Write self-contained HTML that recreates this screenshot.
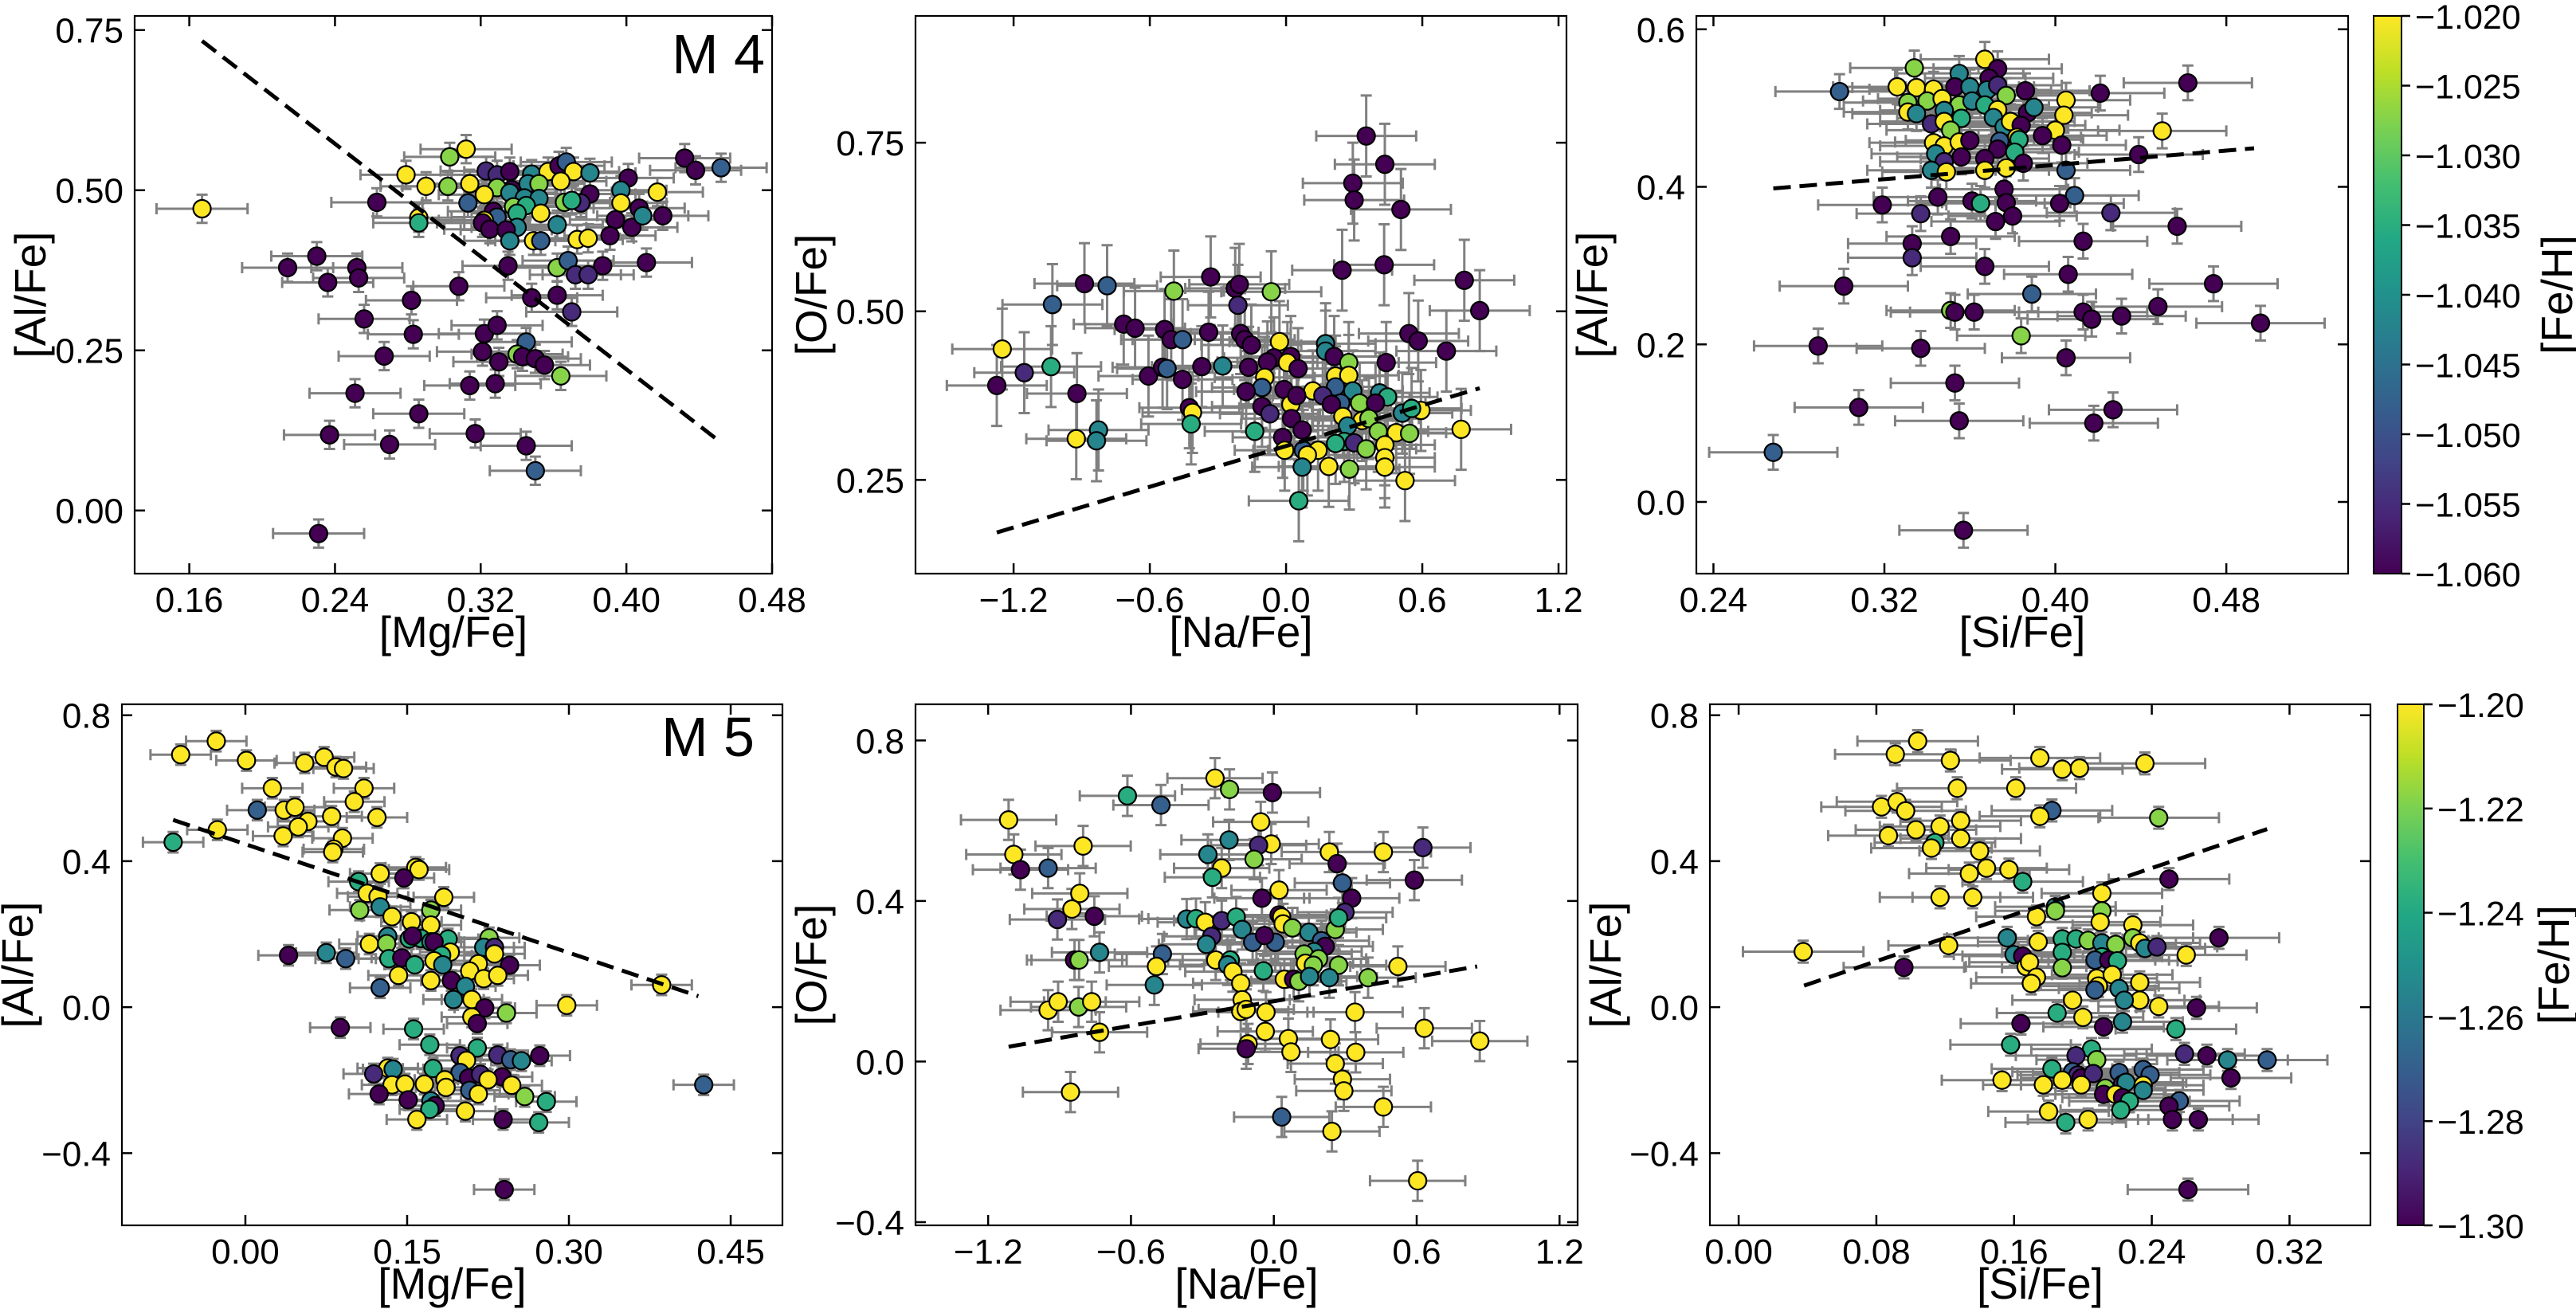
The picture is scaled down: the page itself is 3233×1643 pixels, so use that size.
<!DOCTYPE html>
<html><head><meta charset="utf-8">
<style>
html,body{margin:0;padding:0;background:#fff;}
svg{display:block;font-family:"Liberation Sans",sans-serif;}
</style></head>
<body>
<svg id="fig" width="3233" height="1643" viewBox="0 0 3233 1643" xmlns="http://www.w3.org/2000/svg"></svg>
<script>
// ---- data: [x, y, FeH-class] ; classes P,I,B,T,G,L,Y map to colorbar values ----
const m4MgAl = [[0.167,0.471,'Y'],[0.432,0.55,'P'],[0.438,0.531,'P'],[0.452,0.535,'B'],[0.312,0.564,'Y'],[0.303,0.552,'L'],[0.279,0.524,'Y'],[0.29,0.506,'Y'],[0.302,0.506,'L'],[0.314,0.51,'Y'],[0.323,0.53,'I'],[0.329,0.524,'I'],[0.336,0.529,'P'],[0.348,0.525,'T'],[0.357,0.529,'Y'],[0.363,0.538,'P'],[0.367,0.544,'B'],[0.371,0.529,'Y'],[0.38,0.527,'T'],[0.401,0.519,'P'],[0.337,0.501,'P'],[0.346,0.51,'T'],[0.352,0.51,'L'],[0.329,0.504,'L'],[0.322,0.493,'Y'],[0.336,0.496,'T'],[0.344,0.488,'T'],[0.352,0.487,'T'],[0.364,0.514,'Y'],[0.38,0.494,'P'],[0.397,0.5,'T'],[0.417,0.497,'Y'],[0.397,0.48,'Y'],[0.375,0.48,'I'],[0.366,0.481,'L'],[0.37,0.484,'G'],[0.313,0.48,'B'],[0.263,0.481,'P'],[0.338,0.474,'L'],[0.345,0.476,'G'],[0.34,0.464,'G'],[0.353,0.464,'Y'],[0.327,0.467,'P'],[0.329,0.458,'B'],[0.322,0.453,'Y'],[0.286,0.457,'Y'],[0.286,0.449,'G'],[0.321,0.449,'P'],[0.325,0.439,'P'],[0.34,0.442,'T'],[0.334,0.438,'P'],[0.362,0.446,'T'],[0.394,0.454,'P'],[0.407,0.472,'P'],[0.403,0.442,'P'],[0.409,0.46,'T'],[0.42,0.46,'P'],[0.391,0.429,'P'],[0.336,0.421,'T'],[0.349,0.421,'Y'],[0.353,0.421,'B'],[0.373,0.423,'Y'],[0.379,0.425,'Y'],[0.23,0.397,'P'],[0.214,0.379,'P'],[0.252,0.379,'P'],[0.253,0.363,'P'],[0.236,0.356,'P'],[0.335,0.382,'P'],[0.362,0.379,'L'],[0.368,0.39,'B'],[0.387,0.382,'P'],[0.411,0.387,'P'],[0.372,0.368,'I'],[0.379,0.368,'I'],[0.308,0.35,'P'],[0.348,0.332,'P'],[0.362,0.336,'P'],[0.282,0.328,'P'],[0.37,0.31,'I'],[0.256,0.299,'P'],[0.283,0.275,'P'],[0.322,0.276,'P'],[0.329,0.289,'P'],[0.321,0.248,'P'],[0.33,0.232,'P'],[0.345,0.263,'B'],[0.34,0.244,'L'],[0.343,0.24,'P'],[0.35,0.237,'P'],[0.355,0.227,'P'],[0.267,0.241,'P'],[0.364,0.21,'L'],[0.314,0.195,'P'],[0.328,0.198,'P'],[0.251,0.183,'P'],[0.286,0.151,'P'],[0.237,0.118,'P'],[0.317,0.12,'P'],[0.27,0.103,'P'],[0.345,0.101,'P'],[0.35,0.062,'B'],[0.231,-0.036,'P']];
const m4NaO = [[0.353,0.76,'P'],[0.435,0.718,'P'],[0.294,0.69,'P'],[0.3,0.665,'P'],[0.506,0.651,'P'],[0.247,0.561,'P'],[0.432,0.569,'P'],[0.785,0.546,'P'],[0.853,0.501,'P'],[-0.332,0.551,'P'],[-0.224,0.534,'P'],[-0.206,0.54,'P'],[-0.494,0.53,'L'],[-0.065,0.529,'L'],[-0.888,0.541,'P'],[-0.788,0.538,'B'],[-1.029,0.51,'B'],[-0.212,0.509,'I'],[-0.715,0.481,'P'],[-0.665,0.475,'P'],[-0.535,0.473,'P'],[-0.506,0.458,'P'],[-0.456,0.458,'B'],[-0.341,0.469,'P'],[-0.2,0.467,'P'],[-0.182,0.458,'P'],[-0.153,0.45,'P'],[-0.029,0.455,'Y'],[0.174,0.452,'T'],[0.174,0.441,'T'],[0.021,0.433,'P'],[-0.053,0.431,'P'],[-0.082,0.425,'P'],[0.006,0.424,'Y'],[0.212,0.433,'P'],[0.276,0.424,'L'],[0.441,0.424,'P'],[0.541,0.467,'P'],[0.582,0.456,'P'],[0.706,0.441,'P'],[-1.25,0.444,'Y'],[-1.153,0.409,'I'],[-1.035,0.418,'G'],[-1.274,0.39,'P'],[-0.921,0.378,'P'],[-0.606,0.404,'P'],[-0.544,0.417,'P'],[-0.524,0.415,'B'],[-0.456,0.399,'P'],[-0.371,0.418,'P'],[-0.279,0.419,'T'],[-0.165,0.417,'P'],[-0.094,0.402,'Y'],[-0.106,0.387,'B'],[-0.176,0.381,'P'],[-0.009,0.384,'P'],[0.053,0.415,'P'],[0.218,0.404,'Y'],[0.276,0.405,'Y'],[0.218,0.388,'B'],[0.118,0.382,'Y'],[0.162,0.375,'I'],[0.294,0.382,'T'],[0.412,0.379,'T'],[0.447,0.373,'G'],[0.324,0.364,'L'],[0.394,0.364,'P'],[0.241,0.364,'B'],[0.2,0.362,'P'],[0.021,0.362,'Y'],[-0.106,0.359,'P'],[0.047,0.375,'P'],[-0.426,0.357,'P'],[-0.412,0.35,'Y'],[-0.071,0.348,'I'],[0.024,0.341,'P'],[0.25,0.344,'Y'],[0.335,0.338,'Y'],[0.365,0.341,'L'],[0.271,0.33,'T'],[0.512,0.349,'T'],[0.594,0.353,'Y'],[0.553,0.356,'G'],[-0.418,0.333,'G'],[-0.138,0.322,'G'],[0.071,0.324,'P'],[-0.015,0.313,'P'],[0.406,0.322,'L'],[0.485,0.32,'Y'],[0.544,0.319,'L'],[0.771,0.325,'Y'],[0.256,0.307,'G'],[0.218,0.304,'G'],[0.3,0.305,'I'],[0.353,0.296,'L'],[0.435,0.302,'Y'],[-0.006,0.294,'Y'],[0.076,0.294,'B'],[0.141,0.294,'Y'],[0.094,0.287,'Y'],[-0.826,0.324,'T'],[-0.835,0.308,'T'],[-0.924,0.311,'Y'],[0.435,0.283,'Y'],[0.435,0.269,'Y'],[0.188,0.27,'Y'],[0.279,0.266,'L'],[0.071,0.269,'T'],[0.524,0.249,'Y'],[0.056,0.219,'G']];
const m4SiAl = [[0.299,0.521,'B'],[0.334,0.551,'L'],[0.367,0.562,'Y'],[0.373,0.55,'P'],[0.355,0.544,'T'],[0.369,0.538,'P'],[0.326,0.527,'Y'],[0.335,0.526,'Y'],[0.343,0.524,'Y'],[0.353,0.527,'P'],[0.36,0.527,'T'],[0.368,0.523,'T'],[0.373,0.529,'I'],[0.377,0.516,'L'],[0.386,0.522,'P'],[0.405,0.51,'Y'],[0.421,0.519,'P'],[0.462,0.532,'P'],[0.331,0.507,'L'],[0.34,0.509,'L'],[0.347,0.512,'Y'],[0.355,0.504,'L'],[0.361,0.509,'T'],[0.367,0.504,'G'],[0.373,0.498,'Y'],[0.331,0.495,'Y'],[0.335,0.493,'T'],[0.348,0.497,'T'],[0.356,0.487,'G'],[0.371,0.488,'T'],[0.387,0.494,'P'],[0.39,0.501,'T'],[0.404,0.491,'Y'],[0.342,0.48,'I'],[0.348,0.483,'Y'],[0.351,0.472,'L'],[0.376,0.476,'T'],[0.379,0.483,'Y'],[0.384,0.478,'P'],[0.382,0.463,'Y'],[0.4,0.472,'Y'],[0.394,0.465,'P'],[0.45,0.471,'Y'],[0.343,0.456,'Y'],[0.348,0.452,'Y'],[0.355,0.457,'Y'],[0.36,0.459,'P'],[0.374,0.458,'B'],[0.373,0.448,'P'],[0.383,0.46,'G'],[0.403,0.453,'P'],[0.344,0.442,'T'],[0.356,0.438,'P'],[0.367,0.436,'P'],[0.381,0.444,'G'],[0.348,0.432,'I'],[0.385,0.43,'P'],[0.439,0.441,'P'],[0.342,0.421,'T'],[0.349,0.419,'Y'],[0.367,0.421,'Y'],[0.377,0.424,'Y'],[0.405,0.421,'B'],[0.376,0.397,'P'],[0.409,0.389,'B'],[0.345,0.387,'P'],[0.361,0.382,'P'],[0.365,0.379,'G'],[0.377,0.38,'P'],[0.402,0.379,'P'],[0.319,0.377,'P'],[0.337,0.366,'I'],[0.38,0.363,'P'],[0.372,0.356,'P'],[0.426,0.367,'I'],[0.457,0.35,'P'],[0.333,0.328,'P'],[0.351,0.337,'P'],[0.413,0.331,'P'],[0.333,0.31,'I'],[0.367,0.299,'P'],[0.406,0.289,'P'],[0.301,0.274,'P'],[0.474,0.277,'P'],[0.389,0.264,'B'],[0.351,0.243,'L'],[0.353,0.241,'P'],[0.362,0.241,'P'],[0.413,0.241,'P'],[0.417,0.232,'P'],[0.431,0.236,'P'],[0.448,0.248,'P'],[0.496,0.227,'P'],[0.384,0.211,'L'],[0.337,0.195,'P'],[0.405,0.183,'P'],[0.353,0.151,'P'],[0.308,0.12,'P'],[0.355,0.103,'P'],[0.418,0.1,'P'],[0.427,0.117,'P'],[0.357,-0.036,'P'],[0.289,0.198,'P'],[0.268,0.063,'B']];
const m5MgAl = [[-0.06,0.692,'Y'],[-0.027,0.729,'Y'],[0.001,0.676,'Y'],[0.055,0.669,'Y'],[0.073,0.685,'Y'],[0.084,0.658,'Y'],[0.091,0.654,'Y'],[0.025,0.6,'Y'],[0.11,0.6,'Y'],[0.011,0.54,'B'],[0.036,0.54,'Y'],[0.046,0.548,'Y'],[0.101,0.563,'Y'],[0.08,0.523,'Y'],[0.122,0.52,'Y'],[0.058,0.509,'Y'],[0.049,0.494,'Y'],[-0.026,0.486,'Y'],[0.035,0.469,'Y'],[0.09,0.463,'Y'],[-0.067,0.452,'G'],[0.082,0.433,'Y'],[0.081,0.425,'Y'],[0.158,0.383,'Y'],[0.161,0.377,'Y'],[0.125,0.366,'Y'],[0.147,0.354,'P'],[0.105,0.344,'G'],[0.113,0.312,'Y'],[0.123,0.303,'Y'],[0.184,0.301,'Y'],[0.125,0.275,'T'],[0.106,0.266,'L'],[0.172,0.266,'L'],[0.136,0.248,'Y'],[0.154,0.234,'Y'],[0.172,0.225,'Y'],[0.132,0.194,'T'],[0.115,0.173,'Y'],[0.131,0.174,'L'],[0.152,0.187,'G'],[0.163,0.188,'G'],[0.172,0.179,'T'],[0.188,0.187,'G'],[0.226,0.19,'L'],[0.221,0.164,'T'],[0.231,0.164,'I'],[0.155,0.195,'P'],[0.175,0.179,'P'],[0.19,0.151,'Y'],[0.04,0.142,'P'],[0.075,0.149,'T'],[0.093,0.133,'B'],[0.133,0.133,'G'],[0.145,0.135,'P'],[0.157,0.116,'G'],[0.182,0.142,'G'],[0.175,0.127,'Y'],[0.183,0.116,'T'],[0.216,0.119,'Y'],[0.231,0.146,'Y'],[0.245,0.115,'P'],[0.208,0.099,'Y'],[0.142,0.087,'Y'],[0.172,0.073,'Y'],[0.191,0.073,'P'],[0.221,0.078,'Y'],[0.234,0.087,'Y'],[0.125,0.053,'B'],[0.204,0.057,'T'],[0.193,0.021,'T'],[0.21,0.021,'Y'],[0.386,0.061,'Y'],[0.298,0.005,'Y'],[0.222,-0.002,'P'],[0.21,-0.027,'Y'],[0.215,-0.045,'P'],[0.242,-0.016,'L'],[0.088,-0.056,'P'],[0.156,-0.06,'G'],[0.171,-0.103,'G'],[0.215,-0.112,'G'],[0.199,-0.133,'I'],[0.205,-0.146,'Y'],[0.234,-0.131,'I'],[0.246,-0.144,'B'],[0.256,-0.147,'T'],[0.273,-0.133,'P'],[0.132,-0.167,'Y'],[0.137,-0.17,'T'],[0.174,-0.168,'G'],[0.119,-0.183,'I'],[0.199,-0.179,'B'],[0.207,-0.194,'P'],[0.218,-0.184,'I'],[0.238,-0.191,'P'],[0.225,-0.199,'Y'],[0.185,-0.199,'Y'],[0.136,-0.213,'Y'],[0.148,-0.211,'Y'],[0.166,-0.211,'Y'],[0.186,-0.22,'Y'],[0.247,-0.214,'Y'],[0.208,-0.228,'B'],[0.216,-0.238,'Y'],[0.124,-0.238,'P'],[0.151,-0.254,'P'],[0.172,-0.257,'T'],[0.176,-0.27,'P'],[0.171,-0.28,'G'],[0.259,-0.245,'L'],[0.279,-0.259,'G'],[0.204,-0.285,'Y'],[0.159,-0.308,'Y'],[0.239,-0.308,'P'],[0.272,-0.316,'G'],[0.425,-0.213,'B'],[0.24,-0.5,'P']];
const m5NaO = [[-1.114,0.602,'Y'],[-1.092,0.516,'Y'],[-1.064,0.478,'P'],[-0.948,0.482,'B'],[-0.801,0.537,'Y'],[-0.815,0.419,'Y'],[-0.848,0.38,'Y'],[-0.909,0.354,'I'],[-0.754,0.362,'P'],[-0.837,0.253,'P'],[-0.818,0.253,'L'],[-0.732,0.272,'T'],[-0.948,0.128,'Y'],[-0.906,0.149,'Y'],[-0.82,0.136,'L'],[-0.765,0.149,'Y'],[-0.732,0.073,'Y'],[-0.854,-0.076,'Y'],[-0.615,0.662,'G'],[-0.474,0.639,'B'],[-0.247,0.706,'Y'],[-0.186,0.678,'L'],[-0.006,0.67,'P'],[-0.055,0.597,'Y'],[-0.188,0.552,'T'],[-0.011,0.542,'Y'],[-0.064,0.539,'I'],[-0.277,0.516,'T'],[-0.083,0.504,'L'],[-0.219,0.482,'Y'],[-0.258,0.459,'G'],[0.022,0.427,'Y'],[-0.05,0.407,'P'],[0.233,0.522,'Y'],[0.266,0.493,'P'],[0.46,0.522,'Y'],[0.626,0.533,'I'],[0.59,0.452,'P'],[0.288,0.445,'B'],[0.327,0.407,'P'],[0.299,0.372,'I'],[-0.366,0.355,'T'],[-0.327,0.356,'G'],[-0.288,0.347,'Y'],[-0.219,0.351,'I'],[-0.158,0.36,'G'],[-0.133,0.329,'T'],[-0.261,0.312,'I'],[-0.283,0.292,'T'],[-0.089,0.297,'B'],[0.006,0.297,'B'],[-0.039,0.314,'P'],[0.022,0.365,'P'],[0.033,0.36,'Y'],[0.039,0.343,'Y'],[0.078,0.333,'L'],[0.147,0.322,'T'],[0.2,0.301,'B'],[0.216,0.287,'P'],[0.169,0.274,'T'],[0.127,0.268,'L'],[0.188,0.256,'L'],[0.133,0.245,'Y'],[0.166,0.24,'L'],[0.272,0.24,'L'],[0.258,0.329,'L'],[0.272,0.358,'G'],[-0.468,0.268,'B'],[-0.244,0.253,'Y'],[-0.183,0.253,'G'],[-0.194,0.241,'T'],[-0.172,0.224,'Y'],[-0.044,0.226,'G'],[-0.139,0.195,'Y'],[-0.493,0.237,'Y'],[-0.502,0.191,'T'],[0.044,0.205,'Y'],[0.083,0.205,'P'],[0.105,0.2,'L'],[0.15,0.212,'T'],[0.233,0.209,'T'],[0.396,0.209,'L'],[0.521,0.237,'Y'],[-0.133,0.154,'Y'],[-0.139,0.125,'Y'],[-0.116,0.13,'Y'],[-0.033,0.123,'Y'],[-0.036,0.075,'Y'],[0.341,0.123,'Y'],[0.061,0.057,'Y'],[0.238,0.055,'Y'],[0.072,0.024,'Y'],[0.344,0.023,'Y'],[-0.108,0.044,'Y'],[-0.116,0.032,'P'],[0.632,0.083,'Y'],[0.865,0.051,'Y'],[0.258,-0.005,'Y'],[0.288,-0.044,'Y'],[0.294,-0.073,'Y'],[0.46,-0.113,'Y'],[0.033,-0.138,'B'],[0.244,-0.174,'Y'],[0.604,-0.297,'Y']];
const m5SiAl = [[0.104,0.729,'Y'],[0.091,0.693,'Y'],[0.123,0.676,'Y'],[0.175,0.683,'Y'],[0.188,0.652,'Y'],[0.198,0.655,'Y'],[0.236,0.668,'Y'],[0.127,0.6,'Y'],[0.161,0.6,'Y'],[0.083,0.549,'Y'],[0.092,0.563,'Y'],[0.097,0.538,'Y'],[0.182,0.539,'B'],[0.175,0.523,'Y'],[0.244,0.519,'L'],[0.087,0.47,'Y'],[0.103,0.486,'Y'],[0.117,0.495,'Y'],[0.129,0.511,'Y'],[0.129,0.462,'Y'],[0.114,0.451,'G'],[0.112,0.436,'Y'],[0.14,0.428,'Y'],[0.144,0.381,'Y'],[0.134,0.366,'Y'],[0.157,0.377,'Y'],[0.165,0.344,'G'],[0.117,0.301,'Y'],[0.136,0.301,'Y'],[0.25,0.351,'P'],[0.211,0.312,'Y'],[0.184,0.275,'T'],[0.184,0.264,'L'],[0.173,0.248,'Y'],[0.211,0.264,'L'],[0.21,0.233,'Y'],[0.229,0.225,'Y'],[0.229,0.19,'L'],[0.233,0.176,'Y'],[0.122,0.169,'Y'],[0.156,0.19,'T'],[0.174,0.179,'Y'],[0.188,0.187,'G'],[0.196,0.187,'G'],[0.203,0.183,'L'],[0.211,0.176,'T'],[0.219,0.172,'L'],[0.236,0.161,'T'],[0.243,0.165,'I'],[0.279,0.19,'P'],[0.26,0.143,'Y'],[0.16,0.144,'T'],[0.165,0.14,'P'],[0.188,0.15,'G'],[0.211,0.138,'G'],[0.207,0.129,'B'],[0.215,0.129,'P'],[0.22,0.127,'G'],[0.167,0.111,'Y'],[0.169,0.123,'Y'],[0.188,0.108,'L'],[0.096,0.109,'P'],[0.173,0.082,'Y'],[0.17,0.065,'Y'],[0.208,0.079,'Y'],[0.217,0.089,'Y'],[0.233,0.068,'Y'],[0.209,0.058,'Y'],[0.207,0.047,'B'],[0.221,0.051,'T'],[0.194,0.019,'Y'],[0.233,0.019,'Y'],[0.224,0.019,'T'],[0.244,0.002,'Y'],[0.266,-0.002,'P'],[0.185,-0.016,'G'],[0.2,-0.028,'Y'],[0.164,-0.045,'P'],[0.212,-0.054,'P'],[0.223,-0.04,'T'],[0.254,-0.06,'G'],[0.158,-0.103,'G'],[0.205,-0.115,'G'],[0.208,-0.144,'L'],[0.196,-0.133,'I'],[0.259,-0.128,'I'],[0.272,-0.133,'P'],[0.284,-0.145,'T'],[0.307,-0.145,'B'],[0.182,-0.169,'G'],[0.194,-0.177,'B'],[0.197,-0.186,'I'],[0.199,-0.194,'P'],[0.206,-0.182,'I'],[0.221,-0.179,'B'],[0.235,-0.171,'B'],[0.239,-0.186,'B'],[0.153,-0.2,'Y'],[0.177,-0.213,'Y'],[0.188,-0.2,'Y'],[0.199,-0.213,'Y'],[0.223,-0.211,'I'],[0.225,-0.206,'T'],[0.235,-0.214,'Y'],[0.235,-0.228,'T'],[0.286,-0.194,'P'],[0.213,-0.222,'L'],[0.212,-0.239,'P'],[0.219,-0.239,'Y'],[0.223,-0.248,'P'],[0.227,-0.258,'G'],[0.256,-0.257,'B'],[0.25,-0.271,'P'],[0.18,-0.286,'Y'],[0.222,-0.282,'G'],[0.19,-0.316,'G'],[0.203,-0.308,'Y'],[0.252,-0.308,'P'],[0.267,-0.308,'P'],[0.261,-0.5,'P'],[0.0375,0.152,'Y']];
// typical error bars per panel [xerr, yerr]
const errs = [[0.025,0.022],[0.22,0.06],[0.03,0.022],[0.028,0.028],[0.2,0.05],[0.035,0.03]];
// fit lines [x1,y1,x2,y2]
const fits = [[0.167,0.733,0.452,0.106],[-1.274,0.172,0.853,0.386],[0.268,0.398,0.493,0.449],[-0.067,0.513,0.42,0.03],[-1.114,0.037,0.854,0.237],[0.038,0.059,0.307,0.488]];
const xTicks = [[0.16,0.24,0.32,0.40,0.48],[-1.2,-0.6,0.0,0.6,1.2],[0.24,0.32,0.40,0.48],[0.00,0.15,0.30,0.45],[-1.2,-0.6,0.0,0.6,1.2],[0.00,0.08,0.16,0.24,0.32]];
const yTicks = [[0.00,0.25,0.50,0.75],[0.25,0.50,0.75],[0.0,0.2,0.4,0.6],[-0.4,0.0,0.4,0.8],[-0.4,0.0,0.4,0.8],[-0.4,0.0,0.4,0.8]];
const xDec = [2,1,2,2,1,2], yDec = [2,2,1,1,1,1];
const xLabels = ['[Mg/Fe]','[Na/Fe]','[Si/Fe]','[Mg/Fe]','[Na/Fe]','[Si/Fe]'];
const yLabels = ['[Al/Fe]','[O/Fe]','[Al/Fe]','[Al/Fe]','[O/Fe]','[Al/Fe]'];
const cbTicksTop = [-1.020,-1.025,-1.030,-1.035,-1.040,-1.045,-1.050,-1.055,-1.060];
const cbTicksBot = [-1.20,-1.22,-1.24,-1.26,-1.28,-1.30];
const classFrac = {P:0.0,I:0.12,B:0.3,T:0.45,G:0.62,L:0.82,Y:1.0};

const panels = [
 {box:[169,20,969,720], xd:[0.130,0.480], yd:[-0.0986,0.772], data:m4MgAl, name:'m4-mg-al'},
 {box:[1149,20,1966,720], xd:[-1.632,1.235], yd:[0.111,0.938], data:m4NaO, name:'m4-na-o'},
 {box:[2129,20,2947,720], xd:[0.232,0.537], yd:[-0.091,0.617], data:m4SiAl, name:'m4-si-al'},
 {box:[153,884,982,1538], xd:[-0.1145,0.498], yd:[-0.598,0.83], data:m5MgAl, name:'m5-mg-al'},
 {box:[1149,884,1980,1538], xd:[-1.505,1.276], yd:[-0.408,0.89], data:m5NaO, name:'m5-na-o'},
 {box:[2146,884,2975,1538], xd:[-0.0167,0.367], yd:[-0.598,0.83], data:m5SiAl, name:'m5-si-al'}
];
const VIR = [[0,'#440154'],[0.1,'#482475'],[0.2,'#414487'],[0.3,'#355f8d'],[0.4,'#2a788e'],[0.5,'#21918c'],[0.6,'#22a884'],[0.7,'#44bf70'],[0.8,'#7ad151'],[0.9,'#bddf26'],[1,'#fde725']];
function hex(h){return [1,3,5].map(i=>parseInt(h.substr(i,2),16));}
function viridis(t){t=Math.max(0,Math.min(1,t));for(let i=1;i<VIR.length;i++){if(t<=VIR[i][0]){const a=VIR[i-1],b=VIR[i];const f=(t-a[0])/(b[0]-a[0]);const A=hex(a[1]),B=hex(b[1]);return 'rgb('+A.map((v,k)=>Math.round(v+(B[k]-v)*f)).join(',')+')';}}return VIR[VIR.length-1][1];}
const NS='http://www.w3.org/2000/svg';
const svg=document.getElementById('fig');
function mk(tag,attrs,parent){const e=document.createElementNS(NS,tag);for(const k in attrs)e.setAttribute(k,attrs[k]);(parent||svg).appendChild(e);return e;}
function fmt(v,d){const s=Math.abs(v).toFixed(d);return (v<-1e-9?'\u2212':'')+s;}
const defs=mk('defs',{});
const grad=mk('linearGradient',{id:'vir',x1:'0',y1:'1',x2:'0',y2:'0'},defs);
VIR.forEach(s=>mk('stop',{offset:s[0],'stop-color':s[1]},grad));

panels.forEach((p,pi)=>{
  const [L,T,R,B]=p.box;
  const sx=v=>L+(v-p.xd[0])/(p.xd[1]-p.xd[0])*(R-L);
  const sy=v=>B-(v-p.yd[0])/(p.yd[1]-p.yd[0])*(B-T);
  const g=mk('g',{});
  
  
  const clip=mk('clipPath',{id:'clip'+pi},defs);
  mk('rect',{x:L,y:T,width:R-L,height:B-T},clip);
  const eg=mk('g',{'clip-path':'url(#clip'+pi+')',stroke:'#808080','stroke-width':3,fill:'none'},g);
  
  
  const [xe,ye]=errs[pi];
  p.data.forEach(d=>{
    const cx=sx(d[0]),cy=sy(d[1]);
    const x1=sx(d[0]-xe),x2=sx(d[0]+xe),y1=sy(d[1]-ye),y2=sy(d[1]+ye);
    mk('path',{d:`M${x1},${cy}H${x2}M${cx},${y1}V${y2}M${x1},${cy-7}V${cy+7}M${x2},${cy-7}V${cy+7}M${cx-7},${y1}H${cx+7}M${cx-7},${y2}H${cx+7}`},eg);
  });
  const mg=mk('g',{'clip-path':'url(#clip'+pi+')'},g);
  
  
  p.data.forEach(d=>{
    const c=mk('circle',{cx:sx(d[0]),cy:sy(d[1]),r:11,fill:viridis(classFrac[d[2]]),stroke:'#000','stroke-width':2.2},mg);
    
    
  });
  const f=fits[pi];
  const fl=mk('line',{x1:sx(f[0]),y1:sy(f[1]),x2:sx(f[2]),y2:sy(f[3]),stroke:'#000','stroke-width':5,'stroke-dasharray':'22,11'},g);
  
  
  const fr=mk('rect',{x:L,y:T,width:R-L,height:B-T,fill:'none',stroke:'#000','stroke-width':2.2},g);
  
  
  const tg=mk('g',{stroke:'#000','stroke-width':2.5},g);
  const lg=mk('g',{'font-size':44,fill:'#000'},g);
  xTicks[pi].forEach(v=>{
    const x=sx(v);
    mk('path',{d:`M${x},${B}V${B-13}M${x},${T}V${T+13}`},tg);
    const t=mk('text',{x:x,y:B+48,'text-anchor':'middle'},lg);t.textContent=fmt(v,xDec[pi]);
    
    
  });
  yTicks[pi].forEach(v=>{
    const y=sy(v);
    mk('path',{d:`M${L},${y}H${L+13}M${R},${y}H${R-13}`},tg);
    const t=mk('text',{x:L-14,y:y+16,'text-anchor':'end'},lg);t.textContent=fmt(v,yDec[pi]);
    
    
  });
  const xl=mk('text',{x:(L+R)/2,y:B+92,'text-anchor':'middle','font-size':55},g);xl.textContent=xLabels[pi];
  
  
  const cyl=(T+B)/2;
  const yl=mk('text',{x:0,y:0,'text-anchor':'middle','font-size':55,transform:`translate(${L-112},${cyl}) rotate(-90)`},g);yl.textContent=yLabels[pi];
  
  
});
const t4=mk('text',{x:960,y:92,'text-anchor':'end','font-size':70},svg);t4.textContent='M 4';


const t5=mk('text',{x:947,y:949,'text-anchor':'end','font-size':70},svg);t5.textContent='M 5';


function colorbar(x0,x1,y0,y1,ticks,dec,labelX,name){
  const g=mk('g',{});
  
  
  mk('rect',{x:x0,y:y0,width:x1-x0,height:y1-y0,fill:'url(#vir)',stroke:'#000','stroke-width':2},g);
  const lo=Math.min(...ticks),hi=Math.max(...ticks);
  ticks.forEach(v=>{
    const y=y1-(v-lo)/(hi-lo)*(y1-y0);
    mk('line',{x1:x1,x2:x1+11,y1:y,y2:y,stroke:'#000','stroke-width':2.5},g);
    const t=mk('text',{x:x1+17,y:y+16,'font-size':43},g);t.textContent=fmt(v,dec);
    
    
  });
  const l=mk('text',{x:0,y:0,'text-anchor':'middle','font-size':55,transform:`translate(${labelX},${(y0+y1)/2}) rotate(-90)`},g);l.textContent='[Fe/H]';
  
  
}
colorbar(2979,3014,20,720,cbTicksTop,3,3228,'colorbar-m4');
colorbar(3009,3042,884,1538,cbTicksBot,2,3224,'colorbar-m5');
</script>
</body></html>
